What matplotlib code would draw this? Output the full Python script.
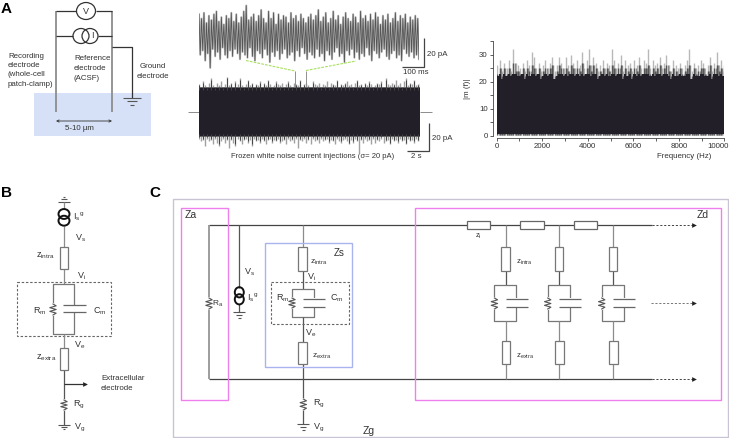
import matplotlib
matplotlib.use('Agg')
import matplotlib.pyplot as plt
import numpy as np
from matplotlib.patches import Rectangle, Ellipse
from matplotlib.transforms import ScaledTranslation

plt.rcParams['font.family'] = ['Liberation Sans', 'DejaVu Sans']
plt.rcParams['mathtext.fontset'] = 'custom'
plt.rcParams['mathtext.rm'] = 'Liberation Sans'
plt.rcParams['mathtext.default'] = 'regular'

W, H = 729, 438

# top trace, 1 s of the current (pA)
trace_peaks = [15, 12, 16, 9, 14, 11, 15, 17, 10, 13, 8, 14, 12, 16, 10, 15, 9, 13, 17, 21, 11, 13, 15, 10, 14,
               18, 12, 9, 17, 12, 16, 8, 15, 11, 14, 13, 9, 16, 12, 14, 10, 15, 12, 9, 13, 15, 11, 14, 18, 10,
               13, 16, 9, 12, 17, 11, 14, 8, 13, 16, 12, 10, 15, 13, 9, 17, 12, 14, 10, 15, 11, 16, 13, 8, 14,
               11, 15, 9, 12, 16, 10, 14, 12, 15, 9, 13, 11, 14, 12]
trace_troughs = [-13, -10, -17, -12, -22, -9, -14, -11, -16, -8, -13, -15, -10, -14, -9, -12, -16, -11, -13, -15,
                 -8, -14, -17, -10, -12, -15, -9, -13, -18, -11, -14, -10, -16, -12, -9, -15, -13, -11, -17, -10,
                 -14, -8, -12, -16, -11, -13, -15, -9, -14, -12, -17, -10, -13, -16, -11, -8, -14, -12, -18, -10,
                 -13, -9, -15, -11, -16, -12, -14, -8, -13, -17, -10, -12, -15, -11, -9, -14, -16, -12, -10, -15,
                 -13, -17, -9, -12, -14, -11, -15, -13, -16]

# 20 s band: edge of the dense part and its spikes (pA)
band_edge = 16.8
band_up = [20, 18, 22, 19, 18, 21, 24, 19, 18, 21, 19, 22, 18, 20, 25, 19, 21, 18, 22, 20, 24, 19, 18, 20, 23, 19,
           21, 18, 20, 19, 22, 18, 21, 19, 23, 20, 18, 19, 22, 20, 19, 21, 18, 20, 22, 19, 18, 21, 20, 19, 23, 18,
           20, 21, 19, 18, 22, 20, 19, 21, 18, 20, 19, 22, 18, 21, 20, 19, 23, 18, 20, 19, 21, 22, 19, 20, 18, 21,
           23, 19, 20, 18, 21, 19, 22, 20, 18, 19, 21, 20, 22, 18, 24, 20, 19, 21, 20, 23, 19, 21, 18, 22, 24, 19,
           21, 20, 23, 19, 20, 21]
band_down = [-19, -21, -20, -24, -19, -21, -20, -23, -19, -22, -24, -21, -19, -22, -20, -26, -20, -22, -24, -19,
             -21, -23, -20, -19, -22, -20, -24, -19, -21, -20, -22, -19, -21, -23, -20, -19, -22, -20, -21, -19,
             -22, -21, -20, -23, -19, -21, -20, -22, -19, -26, -20, -21, -19, -22, -20, -23, -19, -21, -20, -22,
             -19, -21, -20, -19, -22, -20, -21, -23, -19, -21, -22, -20, -19, -21, -23, -20, -22, -19, -21, -29,
             -20, -22, -19, -21, -20, -23, -19, -22, -20, -21, -19, -22, -21, -20, -23, -19, -21, -20, -22, -19,
             -21, -20, -23, -19, -21, -20, -22, -19, -21, -20]
zoom_window = [8.7, 9.65]
zoom_window_top = 29

# spectrum |m(f)|
spec_light = [26, 28, 24, 27, 25, 28, 24, 32, 27, 26, 25, 27, 24, 28, 26, 31, 29, 25, 27, 24, 26, 28, 25, 27, 29,
              24, 26, 29, 27, 25, 29, 26, 30, 27, 25, 28, 26, 31, 25, 28, 32, 26, 29, 27, 24, 26, 28, 25, 27, 26,
              32, 28, 25, 27, 30, 24, 28, 26, 27, 24, 28, 26, 29, 25, 28, 27, 32, 25, 28, 26, 27, 29, 25, 27, 30,
              26, 24, 28, 26, 25, 27, 25, 26, 28, 32, 24, 27, 25, 26, 28, 27, 25, 26, 29, 24, 27, 31, 26, 28, 26]
spec_mid = [23, 25, 22, 25, 23, 25, 23, 27, 24, 24, 23, 25, 22, 25, 24, 26, 25, 23, 25, 22, 24, 25, 23, 25, 26,
            22, 24, 26, 25, 23, 25, 24, 26, 25, 23, 25, 24, 27, 23, 25, 26, 24, 26, 25, 22, 24, 25, 23, 25, 24,
            26, 25, 23, 25, 26, 22, 25, 24, 25, 22, 25, 24, 26, 23, 25, 25, 26, 23, 25, 24, 25, 26, 23, 25, 26,
            24, 22, 25, 24, 23, 25, 23, 24, 25, 26, 22, 25, 23, 24, 25, 25, 23, 24, 26, 22, 25, 26, 24, 25, 24]
spec_dark = [21, 22, 20, 22, 21, 22, 21, 22, 22, 21, 21, 22, 20, 22, 21, 22, 22, 21, 22, 20, 21, 22, 21, 22, 22,
             20, 21, 22, 22, 21, 22, 21, 22, 22, 21, 22, 21, 22, 21, 22, 22, 21, 22, 22, 20, 21, 22, 21, 22, 21,
             22, 22, 21, 22, 22, 20, 22, 21, 22, 20, 22, 21, 22, 21, 22, 22, 22, 21, 22, 21, 22, 22, 21, 22, 22,
             21, 20, 22, 21, 21, 22, 21, 21, 22, 22, 20, 22, 21, 21, 22, 22, 21, 21, 22, 20, 22, 22, 21, 22, 21]
spec_xticks = [0, 2000, 4000, 6000, 8000, 10000]
spec_xminor = [1000, 3000, 5000, 7000, 9000]
spec_yticks = [0, 10, 20, 30]
spec_yminor = [5, 15, 25, 35]

dark = '#231f28'
wire = '#555555'
gray = '#8c8c8c'
pink = '#ee80ee'
blue = '#a9b3ee'


def px_axes(x0, y0, x1, y1):
    return fig.add_axes([x0 / W, 1 - y1 / H, (x1 - x0) / W, (y1 - y0) / H])


fig = plt.figure(figsize=(W / 100, H / 100), dpi=100)
ax = fig.add_axes([0, 0, 1, 1])
ax.set_xlim(0, W)
ax.set_ylim(H, 0)
ax.axis('off')


def line(xs, ys, c=wire, lw=0.9, **kw):
    ax.plot(xs, ys, color=c, lw=lw, solid_capstyle='butt', **kw)


def txt(x, y, s, size=5.7, **kw):
    kw.setdefault('va', 'center')
    ax.text(x, y, s, fontsize=size, color='#333333', **kw)


def box(x0, y0, x1, y1, c=wire, lw=0.9, **kw):
    ax.add_patch(Rectangle((x0, y0), x1 - x0, y1 - y0, fc=kw.pop('fc', 'white'), ec=c, lw=lw, zorder=kw.pop('zorder', 3), **kw))


def zigzag(x, y0, y1, amp=3.2):
    # vertical resistor symbol
    n = 6
    ys = np.linspace(y0, y1, n + 1)
    xs = [x] + [x + amp * (-1) ** i for i in range(n - 1)] + [x]
    ax.plot([x, x], [y0, y1], color='white', lw=1.4, zorder=3)
    ax.plot(xs, ys, color=wire, lw=0.8, zorder=4)


def ground(x, y, w=5.6, gap=2.6, up=False):
    s = -1 if up else 1
    for i, k in enumerate([1, 0.55, 0.25]):
        line([x - w * k, x + w * k], [y + s * i * gap] * 2, lw=0.8)


def source(x, y0, y1, rx=4.5):
    # current source drawn as two linked rings
    r = (y1 - y0) / 2 + 1.6
    for yy in (y0, y1):
        ax.add_patch(Ellipse((x, yy), 2 * rx, 2 * r, fc='none', ec='#111111', lw=1.4, zorder=4))


def parallel(x, x_l, x_r, y0, y1, zy0, zy1, cy0, cy1, cx0, cx1):
    # membrane: resistor on the left branch, capacitor on the right
    line([x_l, x_r, x_r, x_l, x_l], [y0, y0, y1, y1, y0], c='#777777')
    zigzag(x_l, zy0, zy1)
    ax.add_patch(Rectangle((cx0, cy0 - 0.5), cx1 - cx0, cy1 - cy0 + 1, fc='white', ec='none', zorder=3))
    line([cx0, cx1], [cy0, cy0], c='#666666', zorder=4)
    line([cx0, cx1], [cy1, cy1], c='#666666', zorder=4)


def arrow_head(x, y):
    ax.plot([x], [y], marker='>', ms=3.4, color='#222222', mec='none', zorder=5)


# --- A: recording schematic ---
ax.add_patch(Rectangle((34, 93), 117.5, 43, fc='#d6e1f7', ec='none', zorder=0))
line([56, 56], [11, 112], c=gray, lw=1.3)
line([112, 112], [11, 112], c=gray, lw=1.3)
line([56, 76], [11, 11], c='#333333')
line([96, 112], [11, 11], c='#333333')
line([56, 73], [36, 36], c='#333333')
line([98, 112], [36, 36], c='#333333')
ax.add_patch(Ellipse((86, 11), 19, 17, fc='white', ec='#333333', lw=0.9, zorder=3))
txt(86, 11, 'V', 6.5, ha='center', zorder=5)
ax.add_patch(Ellipse((81, 36), 16, 15, fc='none', ec='#333333', lw=0.9, zorder=3))
ax.add_patch(Ellipse((90, 36), 16, 15, fc='none', ec='#333333', lw=0.9, zorder=3))
txt(92, 36, 'I', 6.5, ha='center', zorder=5)
line([112, 132, 132], [46.5, 46.5, 98], c='#333333')
ground(132, 98, w=9, gap=3.4)
ax.annotate('', xy=(56, 121), xytext=(112, 121),
            arrowprops=dict(arrowstyle='<->', lw=0.6, color='#333333', mutation_scale=4, shrinkA=0, shrinkB=0))
txt(79, 129, '5-10 µm', ha='center')
for y, s in zip([56, 65.5, 75, 84.5], ['Recording', 'electrode', '(whole-cell', 'patch-clamp)']):
    txt(8, y, s)
for y, s in zip([59, 68.5, 78], ['Reference', 'electrode', '(ACSF)']):
    txt(74, y, s)
txt(153, 66, 'Ground', ha='center')
txt(153, 76, 'electrode', ha='center')
ax.text(1, 9, 'A', fontsize=11, fontweight='bold', va='center')
ax.text(1, 193, 'B', fontsize=11, fontweight='bold', va='center')
ax.text(149, 193, 'C', fontsize=11, fontweight='bold', va='center')

# --- A: scale bars and labels around the traces ---
line([424.5, 424.5, 402], [38, 66.5, 66.5], c='#444444')
txt(427, 54, '20 pA')
txt(403, 72.5, '100 ms')
line([429, 429, 407], [123, 151, 151], c='#444444')
txt(432, 139, '20 pA')
txt(411, 157, '2 s')
txt(231, 156, 'Frozen white noise current injections (σ= 20 pA)', 5.5)
line([246, 295], [60.5, 71], c='#a8e060', ls=(0, (2.5, 1)), lw=0.8)
line([306, 356], [70.5, 61], c='#a8e060', ls=(0, (2.5, 1)), lw=0.8)
line([188, 199], [112, 112], c=gray, lw=0.7)
line([420, 432], [112, 112], c=gray, lw=0.7)

# --- A: frozen noise, zoomed trace ---
ax_tr = px_axes(199, 0, 419, 72)
ax_tr.patch.set_alpha(0)
ax_tr.set_xlim(0, 1000)
ax_tr.set_ylim((36 - 72) / 1.45, 36 / 1.45)
ax_tr.axis('off')
tr_t = np.linspace(0, 1000, 2 * len(trace_peaks))
tr_v = np.ravel(np.column_stack([trace_peaks, trace_troughs]))
ax_tr.plot(tr_t, tr_v, color='#bdbdbd', lw=1.5)
ax_tr.plot(tr_t, tr_v, color='#555555', lw=0.6)

# --- A: frozen noise, whole 20 s ---
ax_b = px_axes(199, 70, 420, 154)
ax_b.patch.set_alpha(0)
ax_b.set_xlim(0, 20)
ax_b.set_ylim((112 - 154) / 1.4, (112 - 70) / 1.4)
ax_b.axis('off')
t_up = np.linspace(0, 20, len(band_up))
t_dn = np.linspace(0, 20, len(band_down))
ax_b.vlines(t_up, 0, band_up, color='#a0a0a0', lw=1.0)
ax_b.vlines(t_dn, band_down, 0, color='#a0a0a0', lw=1.0)
ax_b.vlines(zoom_window, 0, zoom_window_top, color='#8f8f8f', lw=0.7)
ax_b.fill_between([0, 20], -band_edge - 1.2, band_edge + 1.2, color='#6a6a6e', lw=0, zorder=3)
ax_b.fill_between([0, 20], -band_edge, band_edge, color=dark, lw=0, zorder=3)
ax_b.vlines(t_up[::2], band_edge - 1, np.array(band_up[::2]) - 1, color='#444444', lw=0.7, zorder=4)
ax_b.vlines(t_dn[::2], np.array(band_down[::2]) + 1, -band_edge + 1, color='#444444', lw=0.7, zorder=4)

# --- A: spectrum ---
ax_s = px_axes(496.7, 41, 724.3, 136)
ax_s.patch.set_alpha(0)
f = np.linspace(30, 9970, len(spec_light))
ax_s.vlines(f, 0.5, spec_light, color='#b8b8b8', lw=1.0)
ax_s.vlines(f + 50, 0.5, spec_mid, color='#8a8a8a', lw=1.0)
ax_s.vlines(f, 0.5, spec_mid, color='#555555', lw=1.0)
ax_s.fill_between(f, 0.8, np.array(spec_dark) + 1, color=dark, lw=0, step='mid', zorder=3)
ax_s.set_xlim(0, 10000)
ax_s.set_ylim(0, 35)
ax_s.set_xticks(spec_xticks)
ax_s.set_xticks(spec_xminor, minor=True)
ax_s.set_yticks(spec_yticks)
ax_s.set_yticks(spec_yminor, minor=True)
for s in ['top', 'right']:
    ax_s.spines[s].set_visible(False)
ax_s.spines['left'].set_position(('outward', 2.8))
ax_s.spines['bottom'].set_position(('outward', 1.4))
for s in ['left', 'bottom']:
    ax_s.spines[s].set_color('#444444')
    ax_s.spines[s].set_linewidth(0.6)
ax_s.tick_params(which='both', length=2.2, width=0.6, color='#444444', labelsize=5.7,
                 labelcolor='#333333', pad=1.5)
last = ax_s.get_xticklabels()[-1]
last.set_ha('right')
last.set_transform(last.get_transform() + ScaledTranslation(4 / 100, 0, fig.dpi_scale_trans))
ax_s.set_xlabel('Frequency (Hz)', fontsize=5.7, color='#333333')
ax_s.xaxis.set_label_coords(0.825, -0.18)
ax_s.set_ylabel('|m (f)|', fontsize=5.7, color='#333333')
ax_s.yaxis.set_label_coords(-0.112, 0.5)

# --- B ---
x = 64
ground(x, 201.7, w=5.6, gap=2.5, up=True)
line([x, x], [202, 209], c=gray)
source(x, 214, 220.7, rx=5.5)
line([x, x], [226, 247.3], c=gray)
box(x - 4.2, 247.3, x + 4.2, 269.3, c='#777777')
line([x, x], [269.3, 284], c=gray)
ax.add_patch(Rectangle((16.7, 282), 94.3, 54, fc='none', ec='#666666', lw=0.8, ls=(0, (2.2, 1.6))))
parallel(x, 53, 74, 284, 334, 304, 315, 305, 312.3, 63.3, 86)
line([x, x], [334, 348.3], c=gray)
box(x - 4.2, 348.3, x + 4.2, 370, c='#777777')
line([x, x], [370, 425], c=wire)
zigzag(x, 400, 410)
line([x, 86], [384.3, 384.3], c='#333333')
arrow_head(85.5, 384.3)
ground(x, 425, w=5.6, gap=2.2)
txt(73.5, 217, r'I$_{s}$$^{g}$', 6.5)
txt(75, 238, 'V$_{s}$', 6.5)
txt(36, 256, 'z$_{intra}$', 6.5)
txt(77, 276, 'V$_{i}$', 6.5)
txt(33, 311, 'R$_{m}$', 6.5)
txt(93, 311, 'C$_{m}$', 6.5)
txt(74, 345, 'V$_{e}$', 6.5)
txt(36, 358, 'z$_{extra}$', 6.5)
txt(101, 378.5, 'Extracellular')
txt(101, 388, 'electrode')
txt(73, 405, 'R$_{g}$', 6.5)
txt(74, 428, 'V$_{g}$', 6.5)

# --- C: frames ---
box(173.3, 199.3, 728, 437.3, c='#c9c3d3', lw=1.0, fc='none', zorder=1)
box(181.3, 207.7, 228.3, 400, c=pink, lw=1.0, fc='none', zorder=6)
box(415.3, 207.7, 720.7, 400, c=pink, lw=1.0, fc='none', zorder=6)
box(264.7, 243.3, 352, 367.3, c=blue, lw=1.0, fc='none', zorder=6)
ax.add_patch(Rectangle((271.3, 282), 77.4, 42, fc='none', ec='#666666', lw=0.8, ls=(0, (2.2, 1.6)), zorder=5))

# rails
for y in (225, 379.3):
    line([209, 651.7], [y, y], c='#444444')
    line([651.7, 694], [y, y], c='#444444', ls=(0, (2.2, 1.8)), lw=0.7)
    arrow_head(694.5, y)
line([650.7, 694], [303.3, 303.3], c='#777777', ls=(0, (2.2, 1.8)), lw=0.7)
arrow_head(694.5, 303.3)

# axon resistance
line([209, 209], [225, 379.3], c=gray, lw=1.2)
zigzag(209, 298, 309)
txt(212.5, 304, 'R$_{a}$', 6)

# somatic source
line([239.3, 239.3], [225, 288], c=wire)
source(239.3, 292.3, 299.3)
line([239.3, 239.3], [304, 312.3], c=wire)
ground(239.3, 312.3, w=5.8, gap=2.7)
txt(244, 272, 'V$_{s}$', 6.5)
txt(247, 298, r'I$_{s}$$^{g}$', 6.5)

# soma column
x = 302.7
line([x, x], [225, 247.3], c=gray)
box(x - 4.3, 247.3, x + 4.3, 270.7, c='#777777')
line([x, x], [270.7, 288.7], c=wire)
parallel(x, 292, 313.7, 288.7, 317.3, 298, 308, 298.7, 307.3, 302.7, 325)
line([x, x], [317.3, 341.7], c=wire)
box(x - 4.3, 341.7, x + 4.3, 364.3, c='#777777')
line([x + 0.6, x + 0.6], [364.3, 424.3], c=wire)
zigzag(x + 0.6, 399, 410)
ground(x + 0.6, 424.3, w=5.8, gap=2.8)
txt(334, 253, 'Zs', 7)
txt(310.5, 262, 'z$_{intra}$', 6)
txt(307.5, 277, 'V$_{i}$', 6.5)
txt(275.7, 298, 'R$_{m}$', 6.5)
txt(329.7, 298, 'C$_{m}$', 6.5)
txt(305, 333, 'V$_{e}$', 6.5)
txt(312.5, 356, 'z$_{extra}$', 6)
txt(313, 404, 'R$_{g}$', 6.5)
txt(313, 428, 'V$_{g}$', 6.5)
txt(363, 431, 'Zg', 7.5)
txt(185, 215, 'Za', 7.5)
txt(697, 215, 'Zd', 7.5)

# dendrite columns
for x0, x1 in [(467, 489.7), (520.3, 543.7), (574.3, 597.3)]:
    box(x0, 221, x1, 229.3, c='#666666')
for x in (505.7, 559, 613):
    line([x, x], [225, 247.3], c=gray)
    box(x - 4.3, 247.3, x + 4.3, 270.7, c='#777777')
    line([x, x], [270.7, 284.7], c=wire)
    parallel(x, x - 11.3, x + 10.7, 284.7, 321.3, 298, 309, 298.7, 307.3, x, x + 22)
    line([x, x], [321.3, 341.3], c=gray)
    box(x - 4.3 + 0.5, 341.3, x + 4.3 + 0.5, 364.3, c='#777777')
    line([x + 0.5, x + 0.5], [364.3, 379.3], c=gray)
txt(475, 236, 'z$_{i}$', 5.5)
txt(516, 262, 'z$_{intra}$', 5.7)
txt(516, 356, 'z$_{extra}$', 5.7)

fig.savefig('out.png', dpi=100)
